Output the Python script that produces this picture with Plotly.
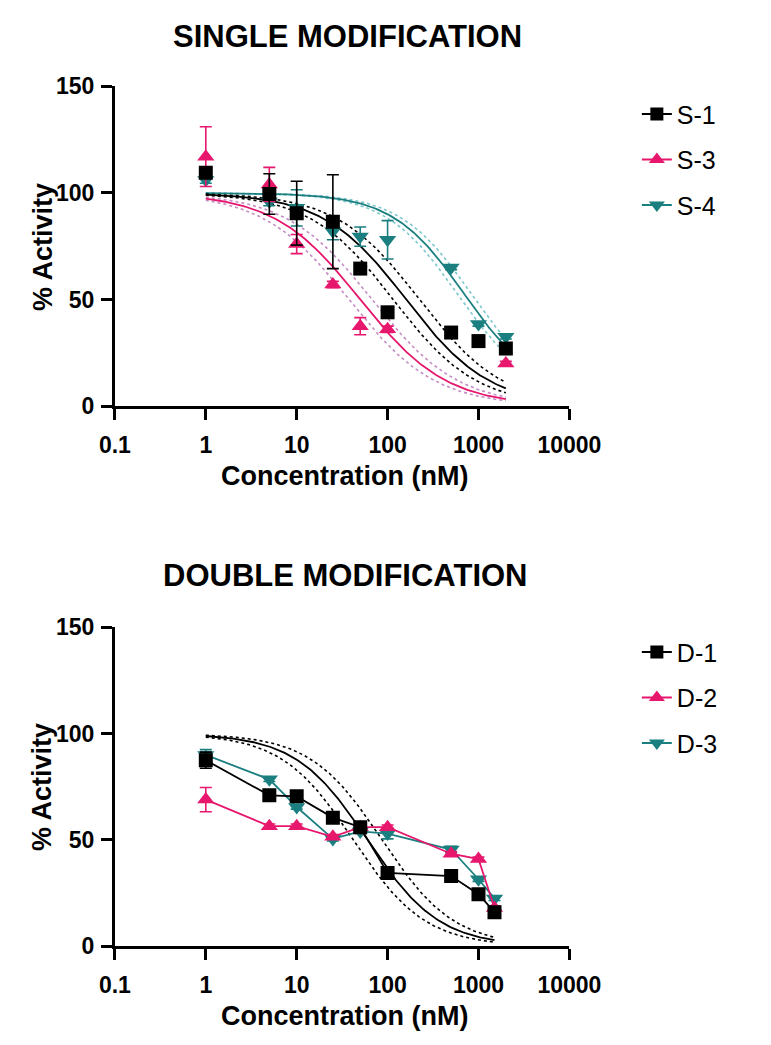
import numpy as np
import plotly.graph_objects as go

# ---------------- data ----------------
conc_single = [1, 5, 10, 25, 50, 100, 500, 1000, 2000]
s1_y = [109.5, 99.5, 90.5, 86.5, 64.5, 44.0, 34.5, 30.5, 27.0]
s1_err = [2.0, 9.5, 15.0, 22.0, 1.5, 2.5, 1.5, 1.5, 1.5]
conc_s3 = [1, 5, 10, 25, 50, 100, 2000]
s3_y = [117.0, 104.0, 76.0, 57.0, 37.5, 36.0, 20.0]
s3_err = [14.0, 8.0, 4.5, 1.5, 4.0, 1.5, 1.0]
s4_y = [106.0, 96.0, 93.0, 82.0, 79.5, 78.0, 65.0, 38.5, 32.5]
s4_err = [1.5, 2.0, 8.5, 4.0, 4.5, 9.0, 1.0, 1.0, 1.0]

conc_double = [1, 5, 10, 25, 50, 100, 500, 1000, 1500]
d1_y = [87.5, 71.0, 70.5, 60.5, 56.0, 34.5, 33.0, 24.5, 16.0]
d1_err = [3.8, 1.0, 1.0, 1.0, 2.0, 1.0, 1.0, 1.0, 1.0]
d2_y = [69.0, 56.5, 56.5, 51.5, 56.0, 56.0, 43.5, 41.0, 18.0]
d2_err = [5.7, 1.0, 1.0, 1.0, 1.0, 1.0, 1.0, 1.0, 1.0]
d3_y = [90.0, 78.5, 65.5, 50.5, 54.0, 53.0, 45.5, 31.5, 22.5]
d3_err = [2.5, 1.0, 1.0, 1.0, 1.0, 2.5, 1.5, 1.0, 1.0]

# four-parameter logistic fits: [top, bottom, IC50, hill]
fit_s1 = [100, 0, 160, 0.95]
fit_s3 = [100, 0, 50, 0.92]
fit_s4 = [100, 5, 700, 1.10]
fit_d1 = [100, 0, 60, 1.10]
# confidence band limits expressed as IC50 multipliers
band_s1 = [0.72, 1.40]
band_s3 = [0.75, 1.35]
band_s4 = [0.84, 1.20]
band_d1 = [0.70, 1.45]

fit_range_single = [1, 2000]
fit_range_double = [1, 1500]

x_ticks = [0.1, 1, 10, 100, 1000, 10000]
x_tick_text = ["0.1", "1", "10", "100", "1000", "10000"]
y_ticks = [0, 50, 100, 150]

BLACK = "#000000"
PINK = "#E6176C"
TEAL = "#1B7F80"
PINK_BAND = "#C48BC4"
TEAL_BAND = "#7CC7CB"

FONT = "Liberation Sans, Arial, sans-serif"


def logistic(x, p, mult=1.0):
    top, bottom, ic50, h = p
    return bottom + (top - bottom) / (1 + (x / (ic50 * mult)) ** h)


fig = go.Figure()

# the page body has an 8px default margin; compensate so screen positions match
OFF = 8
W, H = 771 - OFF, 1045 - OFF


def px_x(v):
    return (v - OFF) / W


def px_y(v):
    return 1 - (v - OFF) / H


def add_fit(xr, p, band, color, band_color, xa, ya):
    xs = np.logspace(np.log10(xr[0]), np.log10(xr[1]), 200)
    for m in band:
        fig.add_trace(go.Scatter(x=xs, y=logistic(xs, p, m), mode="lines",
                                 line=dict(color=band_color, width=1.6, dash="dot"),
                                 showlegend=False, hoverinfo="skip", xaxis=xa, yaxis=ya))
    fig.add_trace(go.Scatter(x=xs, y=logistic(xs, p), mode="lines",
                             line=dict(color=color, width=1.8),
                             showlegend=False, hoverinfo="skip", xaxis=xa, yaxis=ya))


def add_points(xs, ys, errs, color, symbol, size, mode, xa, ya):
    fig.add_trace(go.Scatter(x=xs, y=ys, mode=mode,
                             marker=dict(color=color, symbol=symbol, size=size),
                             line=dict(color=color, width=1.8),
                             error_y=dict(type="data", array=errs, visible=True,
                                          color=color, thickness=1.6, width=6),
                             showlegend=False, xaxis=xa, yaxis=ya))


def add_legend_entry(name, color, symbol, size, legend):
    fig.add_trace(go.Scatter(x=[None], y=[None], mode="lines+markers", name=name,
                             marker=dict(color=color, symbol=symbol, size=size),
                             line=dict(color=color, width=2),
                             legend=legend, legendgroup=name, xaxis="x", yaxis="y"))


SQ, TR = 14, 15

# --- top panel ---
add_fit(fit_range_single, fit_s4, band_s4, TEAL, TEAL_BAND, "x", "y")
add_fit(fit_range_single, fit_s3, band_s3, PINK, PINK_BAND, "x", "y")
add_fit(fit_range_single, fit_s1, band_s1, BLACK, BLACK, "x", "y")
add_points(conc_single, s4_y, s4_err, TEAL, "triangle-down", TR, "markers", "x", "y")
add_points(conc_s3, s3_y, s3_err, PINK, "triangle-up", TR, "markers", "x", "y")
add_points(conc_single, s1_y, s1_err, BLACK, "square", SQ, "markers", "x", "y")

# --- bottom panel ---
add_fit(fit_range_double, fit_d1, band_d1, BLACK, BLACK, "x2", "y2")
add_points(conc_double, d3_y, d3_err, TEAL, "triangle-down", TR, "lines+markers", "x2", "y2")
add_points(conc_double, d2_y, d2_err, PINK, "triangle-up", TR, "lines+markers", "x2", "y2")
add_points(conc_double, d1_y, d1_err, BLACK, "square", SQ, "lines+markers", "x2", "y2")

# legends
add_legend_entry("S-1", BLACK, "square", 13, "legend")
add_legend_entry("S-3", PINK, "triangle-up", 14, "legend")
add_legend_entry("S-4", TEAL, "triangle-down", 14, "legend")
add_legend_entry("D-1", BLACK, "square", 13, "legend2")
add_legend_entry("D-2", PINK, "triangle-up", 14, "legend2")
add_legend_entry("D-3", TEAL, "triangle-down", 14, "legend2")

axis_common = dict(showgrid=False, zeroline=False, showline=True, linecolor="black",
                   linewidth=3, ticks="outside", ticklen=11, tickwidth=3,
                   tickcolor="black",
                   tickfont=dict(family=FONT, size=23, color="black", weight="bold"))

x_dom = [px_x(105), px_x(590)]
xaxis_cfg = dict(axis_common, type="log", range=[-1, 4], tickvals=x_ticks,
                 ticktext=x_tick_text, domain=x_dom, ticklabelstandoff=5)
yaxis_cfg = dict(axis_common, range=[0, 150], tickvals=y_ticks, ticklabelstandoff=2)

legend_cfg = dict(font=dict(family=FONT, size=25, color="black"),
                  bgcolor="rgba(0,0,0,0)", tracegroupgap=10, traceorder="grouped",
                  xanchor="left", yanchor="top", itemsizing="trace")

fig.update_layout(
    width=W, height=H,
    margin=dict(l=0, r=0, t=0, b=0),
    plot_bgcolor="white", paper_bgcolor="white",
    xaxis=dict(xaxis_cfg, anchor="y"),
    yaxis=dict(yaxis_cfg, anchor="x", domain=[px_y(403), px_y(75)]),
    xaxis2=dict(xaxis_cfg, anchor="y2"),
    yaxis2=dict(yaxis_cfg, anchor="x2", domain=[px_y(957), px_y(630)]),
    legend=dict(legend_cfg, x=px_x(662), y=px_y(80)),
    legend2=dict(legend_cfg, x=px_x(662), y=px_y(632)),
    showlegend=True,
)

ann_font_title = dict(family=FONT, size=31, color="black", weight="bold")
ann_font_axis = dict(family=FONT, size=27, color="black", weight="bold")
annotations = [
    dict(text="SINGLE MODIFICATION", x=px_x(353), y=px_y(24), font=ann_font_title),
    dict(text="DOUBLE MODIFICATION", x=px_x(351), y=px_y(577), font=ann_font_title),
    dict(text="Concentration (nM)", x=px_x(350), y=px_y(475), font=ann_font_axis),
    dict(text="Concentration (nM)", x=px_x(350), y=px_y(1029), font=ann_font_axis),
    dict(text="% Activity", x=px_x(28), y=px_y(240), font=ann_font_axis, textangle=-90),
    dict(text="% Activity", x=px_x(28), y=px_y(794), font=ann_font_axis, textangle=-90),
]
for a in annotations:
    fig.add_annotation(xref="paper", yref="paper", showarrow=False,
                       xanchor="center", yanchor="middle", **a)

fig.write_html("out.html", config={"displayModeBar": False})
